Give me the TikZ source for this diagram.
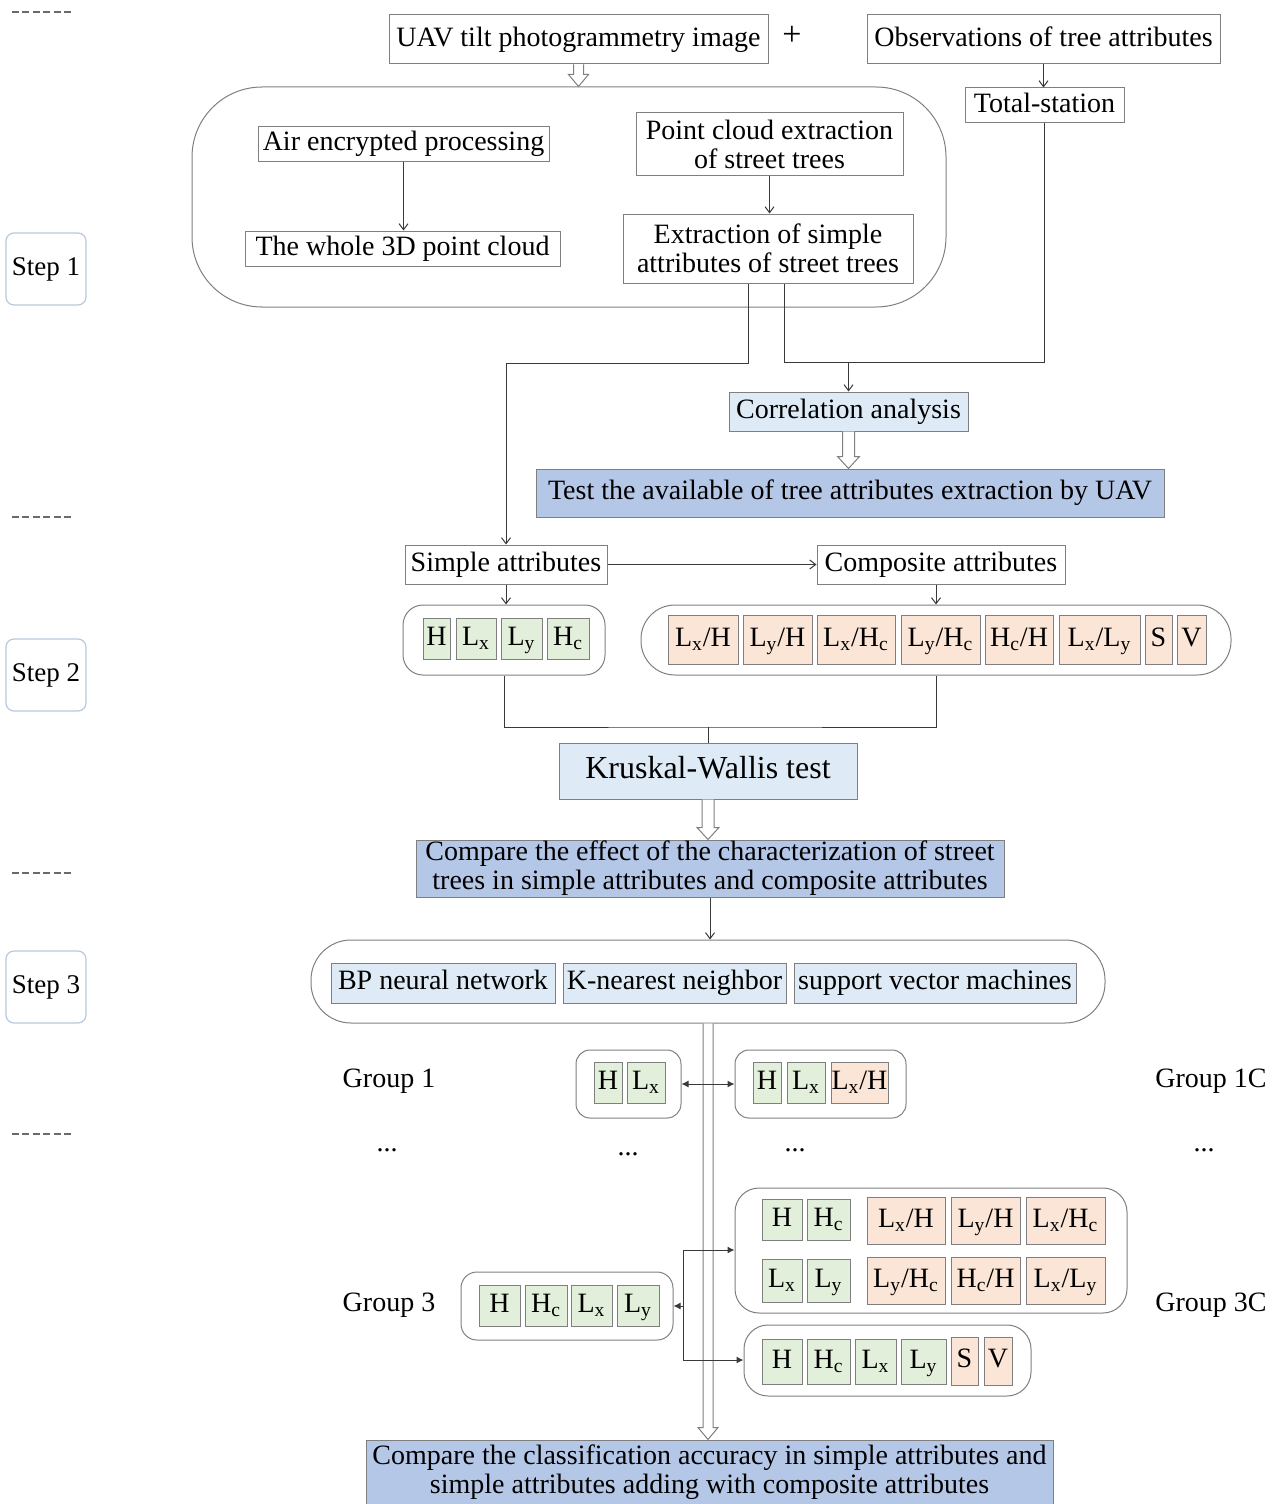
\documentclass[tikz,border=0pt]{standalone}
\usepackage{fontspec}
\setmainfont{Liberation Serif}
\usetikzlibrary{arrows.meta,calc}
\definecolor{bordergray}{HTML}{7F7F7F}
\definecolor{linecol}{HTML}{3A3A3A}
\definecolor{stepborder}{HTML}{B7CADD}
\definecolor{greenfill}{HTML}{E2EFDA}
\definecolor{orangefill}{HTML}{FBE5D6}
\definecolor{lightblue}{HTML}{DEEBF7}
\definecolor{medblue}{HTML}{B4C7E7}
\definecolor{dashcol}{HTML}{6A6A6A}
\newcommand\harrow[4]{%
  \draw[hollowarrow] ($(#1)+(-#3,0)$) -- ($(#2)+(-#3,-12)$) -- ($(#2)+(-#4,-12)$) -- (#2)
    -- ($(#2)+(#4,-12)$) -- ($(#2)+(#3,-12)$) -- ($(#1)+(#3,0)$);}
\tikzset{
  spanbox/.style n args={4}{minimum width={(#3-#1)*0.5pt}, minimum height={(#4-#2)*0.5pt},
     at={({(#1+#3)/2},{(#2+#4)/2})}},
  box/.style={draw=bordergray, line width=0.5pt, inner sep=0pt, align=center, text height=9.6pt, text depth=3pt},
  multi/.style={text height={}, text depth={}},
  plain/.style={box, fill=white},
  lblue/.style={box, fill=lightblue},
  mblue/.style={box, fill=medblue},
  cellg/.style={box, fill=greenfill},
  cello/.style={box, fill=orangefill},
  grp/.style={draw=bordergray, line width=0.5pt, rounded corners=#1, inner sep=0pt},
  stepbox/.style={draw=stepborder, line width=0.6pt, rounded corners=4pt, fill=white, inner sep=0pt, text height=9.2pt, text depth=2.9pt, font=\fontsize{13.5}{14}\selectfont},
  conn/.style={draw=linecol, line width=0.5pt},
  arr/.style={conn, -{Straight Barb[length=3pt,width=4.5pt]}},
  arrf/.style={conn, -{Latex[length=3.5pt,width=3.5pt]}},
  arrff/.style={conn, {Latex[length=3.5pt,width=3.5pt]}-{Latex[length=3.5pt,width=3.5pt]}},
  hollowarrow/.style={draw=bordergray, line width=0.5pt, fill=white},
  dashline/.style={draw=dashcol, line width=0.8pt, dash pattern=on 3.5pt off 1.7pt},
  lab/.style={inner sep=0pt},
}
\begin{document}
\begin{tikzpicture}[x=0.5pt,y=-0.5pt,font=\fontsize{14}{14.5}\selectfont]
\useasboundingbox (0,0) rectangle (1279,1504);
\clip (0,0) rectangle (1279,1504);

% separators
\draw[dashline] (12,12) -- (74,12);
\draw[dashline] (12,517) -- (74,517);
\draw[dashline] (12,873) -- (74,873);
\draw[dashline] (12,1134) -- (74,1134);

% step labels
\node[stepbox, spanbox={6}{233}{86}{305}] (st1) {Step 1};
\node[stepbox, spanbox={6}{639}{86}{711}] (st2) {Step 2};
\node[stepbox, spanbox={6}{951}{86}{1023}] (st3) {Step 3};

% ---------- Step 1 ----------
\node[plain, spanbox={389}{15}{768}{64}] (uav) {UAV tilt photogrammetry image};
\node[lab, font=\fontsize{17}{17}\selectfont] (plus) at (792,36) {+};
\node[plain, spanbox={867}{15}{1220}{64}] (obs) {Observations of tree attributes};
\node[plain, spanbox={965}{88}{1124}{123}] (tot) {Total-station};
\node[grp=35pt, spanbox={192}{87}{946}{307}] (s1box) {};
\node[plain, spanbox={258}{127}{549}{161}] (air) {Air encrypted processing};
\node[plain, spanbox={245}{231}{560}{266}] (whole) {The whole 3D point cloud};
\node[plain, multi, spanbox={636}{113}{903}{175}] (pce) {Point cloud extraction\\of street trees};
\node[plain, multi, spanbox={623}{214}{913}{283}] (esa) {Extraction of simple\\attributes of street trees};
\node[lblue, spanbox={729}{392}{968}{431}] (corr) {Correlation analysis};
\node[mblue, spanbox={536}{469}{1164}{517}] (test) {Test the available of tree attributes extraction by UAV};

% ---------- Step 2 ----------
\node[plain, spanbox={405}{545}{607}{584}] (simple) {Simple attributes};
\node[plain, spanbox={817}{545}{1065}{584}] (comp) {Composite attributes};
\node[grp=10pt, spanbox={403}{605}{605}{675}] (sbox) {};
\node[cellg, spanbox={423}{618}{450}{659}] (sH) {H};
\node[cellg, spanbox={456}{618}{496}{659}] (sLx) {L\textsubscript{x}};
\node[cellg, spanbox={501}{618}{542}{659}] (sLy) {L\textsubscript{y}};
\node[cellg, spanbox={547}{618}{589}{659}] (sHc) {H\textsubscript{c}};
\node[grp=17pt, spanbox={641}{605}{1231}{675}] (cbox) {};
\node[cello, spanbox={668}{615}{738}{664}] (c1) {L\textsubscript{x}/H};
\node[cello, spanbox={743}{615}{812}{664}] (c2) {L\textsubscript{y}/H};
\node[cello, spanbox={817}{615}{895}{664}] (c3) {L\textsubscript{x}/H\textsubscript{c}};
\node[cello, spanbox={901}{615}{980}{664}] (c4) {L\textsubscript{y}/H\textsubscript{c}};
\node[cello, spanbox={985}{615}{1053}{664}] (c5) {H\textsubscript{c}/H};
\node[cello, spanbox={1059}{615}{1140}{664}] (c6) {L\textsubscript{x}/L\textsubscript{y}};
\node[cello, spanbox={1145}{615}{1172}{664}] (c7) {S};
\node[cello, spanbox={1177}{615}{1206}{664}] (c8) {V};
\node[lblue, font=\fontsize{16}{16}\selectfont, text height=11pt, text depth=3.4pt, spanbox={559}{743}{857}{799}] (kw) {Kruskal-Wallis test};
\node[mblue, multi, spanbox={416}{840}{1004}{897}] (cmp) {Compare the effect of the characterization of street\\trees in simple attributes and composite attributes};

% ---------- Step 3 ----------
\node[grp=20pt, spanbox={311}{940}{1105}{1023}] (s3box) {};
\node[lblue, spanbox={331}{963}{555}{1003}] (bp) {BP neural network};
\node[lblue, spanbox={563}{963}{786}{1003}] (knn) {K-nearest neighbor};
\node[lblue, spanbox={794}{963}{1076}{1003}] (svm) {support vector machines};
\node[mblue, multi, spanbox={366}{1440}{1053}{1505}] (final) {Compare the classification accuracy in simple attributes and\\simple attributes adding with composite attributes};

% hollow arrows
\coordinate (h1a) at (uav.south);
\coordinate (h1b) at (uav.south |- s1box.north);
\harrow{h1a}{h1b}{5}{10}
\coordinate (h2a) at (corr.south);
\coordinate (h2b) at (corr.south |- test.north);
\harrow{h2a}{h2b}{6}{11}
\coordinate (h3a) at (kw.south);
\coordinate (h3b) at (kw.south |- cmp.north);
\harrow{h3a}{h3b}{6}{11}
\coordinate (h4a) at (s3box.south);
\coordinate (h4b) at (s3box.south |- final.north);
\harrow{h4a}{h4b}{5}{10}

% group 1
\node[lab] (g1lab) at (389,1081) {Group 1};
\node[grp=7pt, spanbox={576}{1050}{681}{1118}] (g1) {};
\node[cellg, spanbox={594}{1062}{622}{1103}] (g1H) {H};
\node[cellg, spanbox={627}{1062}{665}{1103}] (g1Lx) {L\textsubscript{x}};
\node[grp=7pt, spanbox={735}{1050}{906}{1118}] (g1c) {};
\node[cellg, spanbox={753}{1062}{781}{1103}] (g1cH) {H};
\node[cellg, spanbox={787}{1062}{825}{1103}] (g1cLx) {L\textsubscript{x}};
\node[cello, spanbox={831}{1062}{888}{1103}] (g1cLxH) {L\textsubscript{x}/H};
\node[lab] (g1clab) at (1211,1081) {Group 1C};

\node[lab] (d1) at (387,1150) {...};
\node[lab] (d2) at (628,1154) {...};
\node[lab] (d3) at (795,1150) {...};
\node[lab] (d4) at (1204,1150) {...};

% group 3
\node[lab] (g3lab) at (389,1305) {Group 3};
\node[grp=8pt, spanbox={461}{1272}{673}{1340}] (g3) {};
\node[cellg, spanbox={479}{1285}{520}{1326}] (g3H) {H};
\node[cellg, spanbox={525}{1285}{567}{1326}] (g3Hc) {H\textsubscript{c}};
\node[cellg, spanbox={571}{1285}{612}{1326}] (g3Lx) {L\textsubscript{x}};
\node[cellg, spanbox={617}{1285}{659}{1326}] (g3Ly) {L\textsubscript{y}};
\node[lab] (g3clab) at (1211,1305) {Group 3C};

\node[grp=12pt, spanbox={735}{1188}{1127}{1313}] (g3cu) {};
\node[cellg, spanbox={762}{1199}{802}{1240}] (u1) {H};
\node[cellg, spanbox={807}{1199}{850}{1240}] (u2) {H\textsubscript{c}};
\node[cello, spanbox={867}{1197}{945}{1244}] (u3) {L\textsubscript{x}/H};
\node[cello, spanbox={951}{1197}{1020}{1244}] (u4) {L\textsubscript{y}/H};
\node[cello, spanbox={1026}{1197}{1105}{1244}] (u5) {L\textsubscript{x}/H\textsubscript{c}};
\node[cellg, spanbox={762}{1259}{802}{1302}] (u6) {L\textsubscript{x}};
\node[cellg, spanbox={807}{1259}{850}{1302}] (u7) {L\textsubscript{y}};
\node[cello, spanbox={867}{1257}{945}{1304}] (u8) {L\textsubscript{y}/H\textsubscript{c}};
\node[cello, spanbox={951}{1257}{1020}{1304}] (u9) {H\textsubscript{c}/H};
\node[cello, spanbox={1026}{1257}{1105}{1304}] (u10) {L\textsubscript{x}/L\textsubscript{y}};

\node[grp=12pt, spanbox={744}{1325}{1031}{1396}] (g3cl) {};
\node[cellg, spanbox={762}{1339}{802}{1384}] (l1) {H};
\node[cellg, spanbox={807}{1339}{850}{1384}] (l2) {H\textsubscript{c}};
\node[cellg, spanbox={855}{1339}{896}{1384}] (l3) {L\textsubscript{x}};
\node[cellg, spanbox={901}{1339}{946}{1384}] (l4) {L\textsubscript{y}};
\node[cello, spanbox={951}{1337}{978}{1385}] (l5) {S};
\node[cello, spanbox={984}{1337}{1012}{1385}] (l6) {V};

% ---------- connectors ----------
\draw[arr] (obs.south) -- (obs.south |- tot.north);
\draw[arr] (air.south) -- (air.south |- whole.north);
\draw[arr] (pce.south) -- (pce.south |- esa.north);
\coordinate (j1) at (748,363);
\coordinate (j2) at (784,362);
\draw[arr] (esa.south -| j1) -- (j1) -| (simple.north);
\draw[conn] (esa.south -| j2) -- (j2) -| (tot.south);
\draw[arr] (corr.north |- j2) -- (corr.north);
\draw[arr] (simple.east) -- (comp.west);
\draw[arr] (simple.south) -- (simple.south |- sbox.north);
\coordinate (j4) at (936,700);
\draw[arr] (comp.south -| j4) -- (j4 |- cbox.north);
\coordinate (j3) at (710,727);
\draw[conn] (sbox.south) |- (j3) -| (j4 |- cbox.south);
\draw[conn] (kw.north |- j3) -- (kw.north);
\draw[arr] (cmp.south) -- (cmp.south |- s3box.north);
\draw[arrff] (g1.east) -- (g1c.west);
\coordinate (k1) at (683,1250);
\coordinate (k2) at (683,1360);
\draw[conn] (k1) -- (k2);
\draw[arrf] (k1) -- (k1 -| g3cu.west);
\draw[arrf] (k2) -- (k2 -| g3cl.west);
\draw[arrf] (k1 |- g3.east) -- (g3.east);
\end{tikzpicture}
\end{document}
